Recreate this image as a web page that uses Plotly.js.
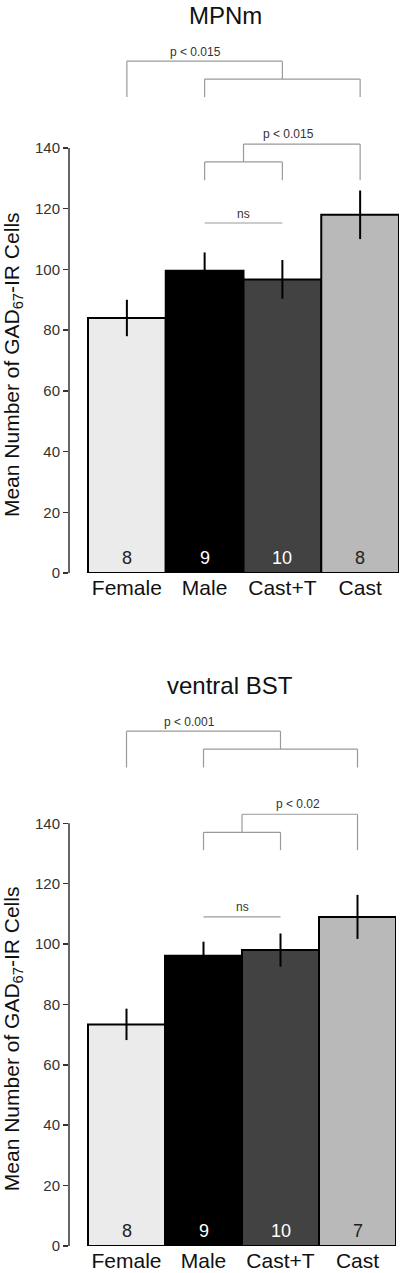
<!DOCTYPE html>
<html><head><meta charset="utf-8">
<script src="https://cdn.plot.ly/plotly-3.0.1.min.js"></script>
<style>html,body{margin:0;padding:0;background:#fff}#chart{width:400px;height:1273px}</style>
</head><body><div id="chart"></div>
<script>
// ---------- data ----------
const categories = ['Female', 'Male', 'Cast+T', 'Cast'];
const barColors = ['#ebebeb', '#000000', '#424242', '#b9b9b9'];
const nTextColors = ['#222222', '#ffffff', '#ffffff', '#222222'];
const yTickVals = [0, 20, 40, 60, 80, 100, 120, 140];
const yTitle = 'Mean Number of GAD<sub>67</sub>-IR Cells';
const panelTitles = ['MPNm', 'ventral BST'];

const mpnmMeans = [84, 99.6, 96.7, 118];
const mpnmSEM = [6, 6, 6.4, 8];
const mpnmN = [8, 9, 10, 8];

const bstMeans = [73.4, 96.1, 98.0, 109.0];
const bstSEM = [5.2, 4.7, 5.5, 7.3];
const bstN = [8, 9, 10, 7];

// significance brackets (group indices, heights in data units)
const mpnmBrackets = [
  {a: [0], b: [1, 3], legs: 156.8, sub: 162.7, top: 168.6, label: 'p < 0.015', lx: 0.88, ly: 171.6},
  {a: [1, 2], b: [3], legs: 129.4, sub: 135.4, top: 141.3, label: 'p < 0.015', lx: 2.08, ly: 144.6}
];
const mpnmNs = {a: 1, b: 2, y: 115.3, label: 'ns', ly: 118.4};

const bstBrackets = [
  {a: [0], b: [1, 3], legs: 158.5, sub: 164.6, top: 170.5, label: 'p < 0.001', lx: 0.82, ly: 173.6},
  {a: [1, 2], b: [3], legs: 131.1, sub: 137.0, top: 143.0, label: 'p < 0.02', lx: 2.23, ly: 146.3}
];
const bstNs = {a: 1, b: 2, y: 109.0, label: 'ns', ly: 112.2};

// ---------- layout geometry ----------
const W = 400, H = 1273, L = 69, R = 1;
const plotW = W - L - R;
const FONT = 'Liberation Sans, Arial, Helvetica, sans-serif';
const pxX = px => (px - L) / plotW;
const pxY = py => (H - py) / H;

// panel pixel anchors: zero line, 140 line, top of plot area, right edge
const panels = [
  {zero: 573, v140: 148, topPx: 30, right: 399, left0: 88, titleY: 15, titleX: 225,
   means: mpnmMeans, sem: mpnmSEM, n: mpnmN, brackets: mpnmBrackets, ns: mpnmNs},
  {zero: 1246, v140: 823.3, topPx: 700, right: 396, left0: 88, titleY: 685, titleX: 230,
   means: bstMeans, sem: bstSEM, n: bstN, brackets: bstBrackets, ns: bstNs}
];

const traces = [], shapes = [], annotations = [];
const layout = {
  width: W, height: H, margin: {l: L, r: R, t: 0, b: 0},
  paper_bgcolor: '#fff', plot_bgcolor: 'rgba(0,0,0,0)',
  showlegend: false, hovermode: false, bargap: 0,
  font: {family: FONT, color: '#222'}
};

const bracketLine = {color: '#9a9a9a', width: 1.2};

panels.forEach((p, i) => {
  const xa = i === 0 ? 'x' : 'x2', ya = i === 0 ? 'y' : 'y2';
  const xKey = i === 0 ? 'xaxis' : 'xaxis2', yKey = i === 0 ? 'yaxis' : 'yaxis2';
  const pxPerUnit = (p.zero - p.v140) / 140;
  const yMax = (p.zero - p.topPx) / pxPerUnit;
  const domRight = (p.right - L) / plotW;
  const catW = (p.right - p.left0) / 4;
  const xMin = -0.5 - (p.left0 - L) / catW;

  layout[xKey] = {
    domain: [0, domRight], range: [xMin, 3.5], anchor: ya,
    type: 'category', showline: false, showgrid: false, zeroline: false,
    ticks: '', tickfont: {size: 21, color: '#111', family: FONT}, fixedrange: true
  };
  layout[yKey] = {
    domain: [pxY(p.zero), pxY(p.topPx)], range: [0, yMax], anchor: xa,
    showline: false, showgrid: false, zeroline: false,
    tickmode: 'array', tickvals: yTickVals, ticktext: yTickVals.map(String),
    ticks: 'outside', ticklen: 5, tickwidth: 1.5, tickcolor: '#333',
    tickfont: {size: 15, color: '#333', family: FONT}, fixedrange: true
  };

  traces.push({
    type: 'bar', x: categories, y: p.means, xaxis: xa, yaxis: ya,
    marker: {color: barColors, line: {color: '#000', width: 2}},
    error_y: {type: 'data', array: p.sem, visible: true, color: '#000', thickness: 2, width: 0}
  });

  // y axis line from 0 to 140
  shapes.push({type: 'line', xref: 'paper', yref: ya, x0: 0, x1: 0,
    y0: yTickVals[0], y1: yTickVals[yTickVals.length - 1], line: {color: '#333', width: 1.5}});

  const seg = (x0, y0, x1, y1) => shapes.push({type: 'line', xref: xa, yref: ya, x0, y0, x1, y1, line: bracketLine});
  const groupConn = (g, b) => {
    if (g.length === 1) { seg(g[0], b.legs, g[0], b.top); return g[0]; }
    const a = Math.min(...g), c = Math.max(...g);
    seg(a, b.legs, a, b.sub); seg(a, b.sub, c, b.sub); seg(c, b.sub, c, b.legs);
    const m = (a + c) / 2; seg(m, b.sub, m, b.top); return m;
  };
  p.brackets.forEach(b => {
    const x1 = groupConn(b.a, b), x2 = groupConn(b.b, b);
    seg(x1, b.top, x2, b.top);
    annotations.push({xref: xa, yref: ya, x: b.lx, y: b.ly, text: b.label, showarrow: false,
      xanchor: 'center', yanchor: 'middle', font: {size: 12, color: '#333', family: FONT}});
  });
  seg(p.ns.a, p.ns.y, p.ns.b, p.ns.y);
  annotations.push({xref: xa, yref: ya, x: (p.ns.a + p.ns.b) / 2, y: p.ns.ly, text: p.ns.label, showarrow: false,
    xanchor: 'center', yanchor: 'middle', font: {size: 12, color: '#333', family: FONT}});

  // n labels
  p.n.forEach((n, k) => annotations.push({xref: xa, yref: ya, x: k, y: 5, text: String(n), showarrow: false,
    xanchor: 'center', yanchor: 'middle', font: {size: 18, color: nTextColors[k], family: FONT}}));

  // panel title
  annotations.push({xref: 'paper', yref: 'paper', x: pxX(p.titleX), y: pxY(p.titleY), text: panelTitles[i],
    showarrow: false, xanchor: 'center', yanchor: 'middle', font: {size: 24, color: '#111', family: FONT}});

  // y axis title
  annotations.push({xref: 'paper', yref: ya, x: pxX(13), y: 68.5, text: yTitle, textangle: -90,
    showarrow: false, xanchor: 'center', yanchor: 'middle', font: {size: 21, color: '#111', family: FONT}});
});

layout.shapes = shapes;
layout.annotations = annotations;

Plotly.newPlot('chart', traces, layout, {staticPlot: true, displayModeBar: false});
</script>
</body></html>
